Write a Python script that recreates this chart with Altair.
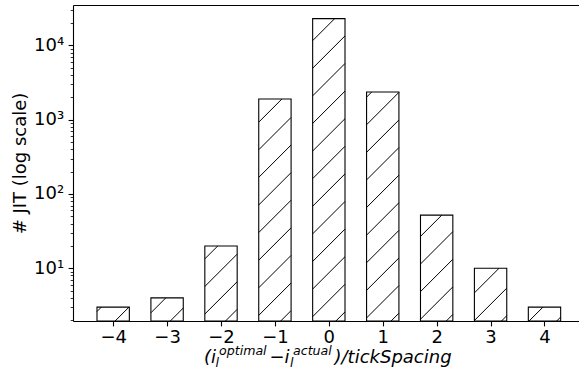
import altair as alt
import numpy as np
import pandas as pd

# ---- data ----
offsets = [-4, -3, -2, -1, 0, 1, 2, 3, 4]
counts = [3, 4, 20, 1900, 22900, 2360, 52, 10, 3]
x_ticks = [-4, -3, -2, -1, 0, 1, 2, 3, 4]
y_major = [10, 100, 1000, 10000]
y_minor = [2, 3, 4, 5, 6, 7, 8, 9, 20, 30, 40, 50, 60, 70, 80, 90,
           200, 300, 400, 500, 600, 700, 800, 900,
           2000, 3000, 4000, 5000, 6000, 7000, 8000, 9000, 20000, 30000]
y_title = "# JIT (log scale)"

# ---- layout / style ----
W, H = 506, 316
PAD_L, PAD_T = 73, 5
X_DOM = [-4.745, 4.64]
Y_DOM = [1.953, 34970]
BAR_W = 0.6
FONT = "DejaVu Sans"
FS = 18
SUP = 12.6

bars = pd.DataFrame({"offset": offsets, "count": counts})


def hatch_segments(spacing=27.6, phase=-0.7):
    """Diagonal '/' hatch lines clipped to each bar (pixel-space pattern like matplotlib)."""
    lx0, lx1 = X_DOM
    ly0, ly1 = np.log10(Y_DOM)
    u = W / (lx1 - lx0)

    def to_px(xd):
        return (xd - lx0) * u

    def to_py(yd):
        return H - (np.log10(yd) - ly0) / (ly1 - ly0) * H

    def from_px(px):
        return lx0 + px / u

    def from_py(py):
        return 10 ** (ly0 + (H - py) / H * (ly1 - ly0))

    rows = []
    for o, c in zip(offsets, counts):
        a, b = to_px(o - BAR_W / 2), to_px(o + BAR_W / 2)
        t = to_py(c)
        k0 = int(np.floor((a + t - phase) / spacing)) - 1
        k1 = int(np.ceil((b + H - phase) / spacing)) + 1
        for k in range(k0, k1 + 1):
            cc = phase + k * spacing
            xs = max(a, cc - H)
            xe = min(b, cc - t)
            if xe - xs > 0.4:
                rows.append({"hx": from_px(xs), "hy": from_py(cc - xs),
                             "hx2": from_px(xe), "hy2": from_py(cc - xe)})
    return pd.DataFrame(rows)


hatch = hatch_segments()

xscale = alt.Scale(domain=X_DOM, nice=False, zero=False)
yscale = alt.Scale(type="log", domain=Y_DOM, nice=False)

label_expr = ("datum.value == 10 ? '10¹' : datum.value == 100 ? '10²' : "
              "datum.value == 1000 ? '10³' : datum.value == 10000 ? '10⁴' : ''")

x_bottom = alt.Axis(values=x_ticks, format="d", orient="bottom", grid=False, title=None,
                    labelFont=FONT, labelFontSize=FS, labelColor="black", labelPadding=3,
                    labelFlush=False, labelOverlap=False,
                    tickColor="black", tickSize=4.9, tickWidth=1.1,
                    domainColor="black", domainWidth=1.1)
x_top = alt.Axis(orient="top", labels=False, ticks=False, grid=False, title=None,
                 domainColor="black", domainWidth=1.1)
y_major_axis = alt.Axis(values=y_major, orient="left", labelExpr=label_expr, grid=False,
                        labelFont=FONT, labelFontSize=FS, labelColor="black", labelPadding=4.5,
                        labelFlush=False, labelOverlap=False,
                        tickColor="black", tickSize=4.9, tickWidth=1.1,
                        domainColor="black", domainWidth=1.1,
                        title=y_title, titleFont=FONT, titleFontSize=FS, titleFontWeight="normal",
                        titleColor="black", titleAngle=270, titleAlign="center",
                        titleBaseline="alphabetic", titleX=25.1 - PAD_L, titleY=H / 2)
y_minor_axis = alt.Axis(values=y_minor, orient="left", labels=False, grid=False, title=None,
                        tickColor="black", tickSize=2.8, tickWidth=0.8, domain=False)

base = alt.Chart(bars).transform_calculate(
    x0=f"datum.offset - {BAR_W / 2}", x1=f"datum.offset + {BAR_W / 2}")

bar_fill = base.mark_bar(fill="white", strokeWidth=0).encode(
    x=alt.X("x0:Q", scale=xscale, axis=x_bottom),
    x2="x1:Q",
    y=alt.Y("count:Q", scale=yscale, axis=y_major_axis),
    y2=alt.datum(Y_DOM[0]),
)

hatch_layer = alt.Chart(hatch).mark_rule(color="black", strokeWidth=1.0).encode(
    x=alt.X("hx:Q", scale=xscale, axis=None),
    x2="hx2:Q",
    y=alt.Y("hy:Q", scale=yscale, axis=None),
    y2="hy2:Q",
)

bar_edge = base.mark_bar(fillOpacity=0, stroke="black", strokeWidth=1.1).encode(
    x=alt.X("x0:Q", scale=xscale, axis=x_top),
    x2="x1:Q",
    y=alt.Y("count:Q", scale=yscale, axis=y_minor_axis),
    y2=alt.datum(Y_DOM[0]),
)

# x-axis title built from pieces (mathtext-like sub/superscripts)
title_pieces = [
    ("(i", 204, 363, FS, "italic"),
    ("optimal", 219, 354.5, SUP, "italic"),
    ("l", 215.5, 367, SUP, "italic"),
    ("\u2212", 269.5, 363, FS, "normal"),
    ("i", 284.5, 363, FS, "italic"),
    ("actual", 293, 354.5, SUP, "italic"),
    ("l", 290, 367, SUP, "italic"),
    (")/tickSpacing", 334.5, 363, FS, "italic"),
]
dummy = pd.DataFrame({"d": [0]})
title_layers = [
    alt.Chart(dummy).mark_text(text=t, align="left", baseline="alphabetic", font=FONT,
                               fontSize=s, fontStyle=st, color="black").encode(
        x=alt.value(px - PAD_L), y=alt.value(py - PAD_T))
    for t, px, py, s, st in title_pieces
]

chart = alt.layer(bar_fill, hatch_layer, bar_edge, *title_layers).resolve_axis(
    y="independent"
).properties(
    width=W, height=H,
    padding={"left": PAD_L, "top": PAD_T, "right": 0, "bottom": 381 - PAD_T - H},
    autosize=alt.AutoSizeParams(type="none"),
    background="white",
).configure_view(stroke=None)

chart.save("out.html", embed_options={"renderer": "svg", "actions": False})
